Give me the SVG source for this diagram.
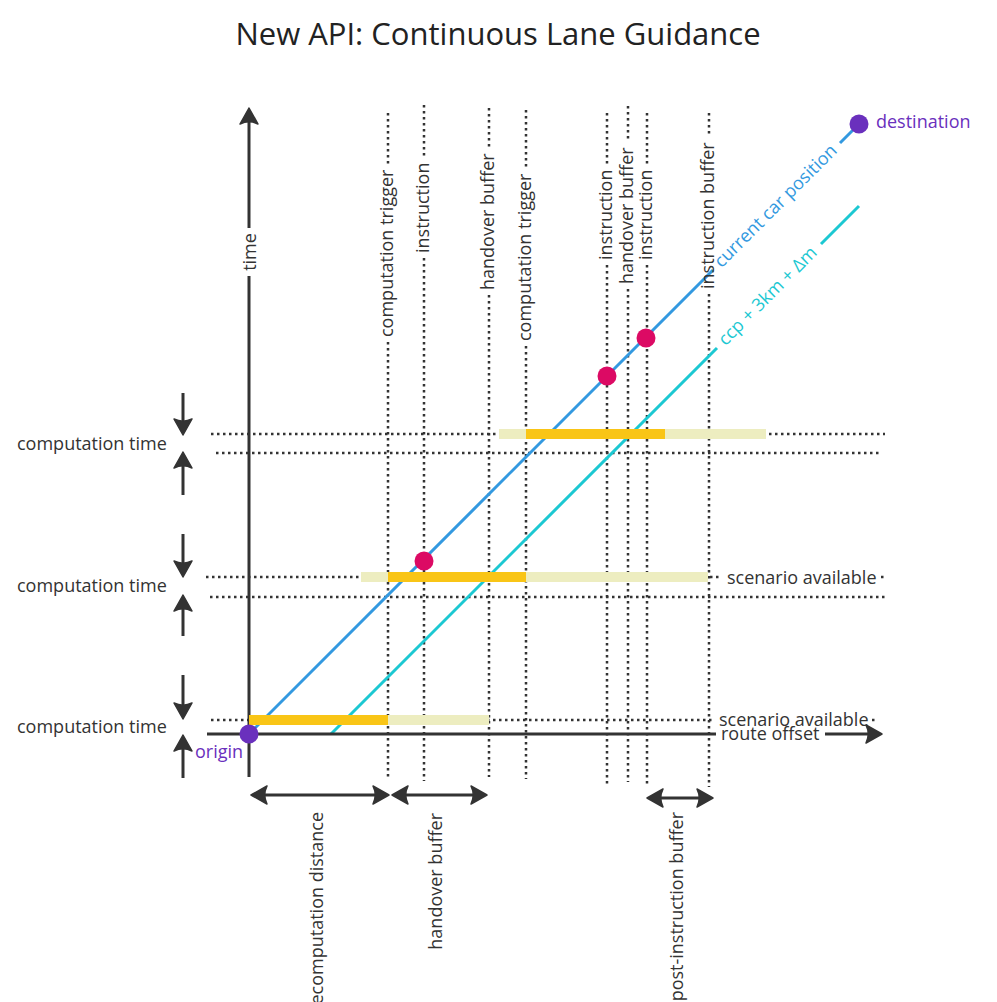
<svg xmlns="http://www.w3.org/2000/svg" width="997" height="1002" viewBox="0 0 997 1002">
<style>
text{font-family:"Open Sans","Noto Sans","Liberation Sans",sans-serif;font-size:18px;fill:#333}
.title{font-size:31px;fill:#222}
.dot{stroke:#333;stroke-width:2.5;stroke-dasharray:2.5 3.5;fill:none}
.axis{stroke:#333;stroke-width:3;fill:none}
.blue{stroke:#3399e0;stroke-width:3;fill:none}
.cyan{stroke:#1cc8d2;stroke-width:3;fill:none}
.light{fill:#ededc0}
.orange{fill:#f9c516}
.pink{fill:#dc0a64}
.purple{fill:#6a30bd}
</style>
<defs>
<marker id="ah" viewBox="-10 -11 20 22" refX="0" refY="0" markerWidth="20" markerHeight="22" markerUnits="userSpaceOnUse" orient="auto-start-reverse">
<path d="M8,0 L-8,-9 Q-3.5,0 -8,9 Z" fill="#333" stroke="#333" stroke-width="1.5" stroke-linejoin="round"/>
</marker>
</defs>
<rect width="997" height="1002" fill="#fff"/>
<text class="title" x="498" y="45" text-anchor="middle">New API: Continuous Lane Guidance</text>

<g id="connectors">
<!-- vertical dotted guides -->
<path class="dot" d="M388,113V165M388,342V778"/>
<path class="dot" d="M424,105V157M424,258V781"/>
<path class="dot" d="M489,108V148M489,295V777"/>
<path class="dot" d="M526,110V168M526,346V779"/>
<path class="dot" d="M607,113V164M607,265V786"/>
<path class="dot" d="M628,106V142M628,289V782"/>
<path class="dot" d="M647,113V164M647,265V786"/>
<path class="dot" d="M709,113V137M709,294V787"/>
<!-- horizontal dotted guides -->
<path class="dot" d="M211,434H885"/>
<path class="dot" d="M216,453H880"/>
<path class="dot" d="M206,577H722M881,577H887"/>
<path class="dot" d="M210,597H885"/>
<path class="dot" d="M211,720H713M872,720H878"/>
<!-- position lines -->
<path class="blue" d="M249,734L713,270M840,143L859,124"/>
<path class="cyan" d="M331,734L717,348M821,244L859,206"/>
<!-- axes -->
<path class="axis" d="M249,228V116" marker-end="url(#ah)"/>
<path class="axis" d="M249,276V777"/>
<path class="axis" d="M207,734H716"/>
<path class="axis" d="M825,734H874" marker-end="url(#ah)"/>
<!-- computation time arrows -->
<path class="axis" d="M183,393V427" marker-end="url(#ah)"/>
<path class="axis" d="M183,495V460" marker-end="url(#ah)"/>
<path class="axis" d="M183,534V569" marker-end="url(#ah)"/>
<path class="axis" d="M183,636V603" marker-end="url(#ah)"/>
<path class="axis" d="M183,675V711" marker-end="url(#ah)"/>
<path class="axis" d="M183,778V743" marker-end="url(#ah)"/>
<!-- distance arrows -->
<path class="axis" d="M259,795H381" marker-start="url(#ah)" marker-end="url(#ah)"/>
<path class="axis" d="M400,795H479" marker-start="url(#ah)" marker-end="url(#ah)"/>
<path class="axis" d="M655,798H705" marker-start="url(#ah)" marker-end="url(#ah)"/>
</g>

<g id="bars">
<rect class="light" x="499" y="429" width="267" height="10"/>
<rect class="orange" x="526" y="429" width="139" height="10"/>
<rect class="light" x="361" y="572" width="347" height="10"/>
<rect class="orange" x="388" y="572" width="138" height="10"/>
<rect class="orange" x="249" y="715" width="139" height="10"/>
<rect class="light" x="388" y="715" width="101" height="10"/>
</g>

<g id="origin"><circle class="purple" cx="249" cy="734" r="9.5"/><text x="195" y="758" style="fill:#6a30bd">origin</text></g>
<g id="destination"><circle class="purple" cx="859" cy="124" r="9.5"/><text x="876" y="128" style="fill:#6a30bd">destination</text></g>
<g id="event-1"><circle class="pink" cx="424" cy="561" r="9.5"/></g>
<g id="event-2"><circle class="pink" cx="607" cy="376" r="9.5"/></g>
<g id="event-3"><circle class="pink" cx="646" cy="338" r="9.5"/></g>

<g id="line-labels">
<text transform="translate(721.4,268.4) rotate(-45)" style="fill:#3399e0">current car position</text>
<text transform="translate(725.4,346.4) rotate(-45)" style="fill:#1cc8d2">ccp + 3km + Δm</text>
</g>

<g id="guide-labels">
<text transform="translate(393,337) rotate(-90)">computation trigger</text>
<text transform="translate(429,253) rotate(-90)">instruction</text>
<text transform="translate(494,290) rotate(-90)">handover buffer</text>
<text transform="translate(531,341) rotate(-90)">computation trigger</text>
<text transform="translate(612,260) rotate(-90)">instruction</text>
<text transform="translate(633,284) rotate(-90)">handover buffer</text>
<text transform="translate(652,260) rotate(-90)">instruction</text>
<text transform="translate(714,289) rotate(-90)">instruction buffer</text>
<text transform="translate(256,252) rotate(-90)" text-anchor="middle">time</text>
</g>

<g id="axis-labels">
<text x="721" y="740">route offset</text>
<text x="727" y="584">scenario available</text>
<text x="719" y="726">scenario available</text>
<text x="17" y="450">computation time</text>
<text x="17" y="592">computation time</text>
<text x="17" y="733">computation time</text>
</g>

<g id="distance-labels">
<text transform="translate(323,812) rotate(-90)" text-anchor="end">recomputation distance</text>
<text transform="translate(442,813) rotate(-90)" text-anchor="end">handover buffer</text>
<text transform="translate(683,812) rotate(-90)" text-anchor="end">post-instruction buffer</text>
</g>
</svg>
